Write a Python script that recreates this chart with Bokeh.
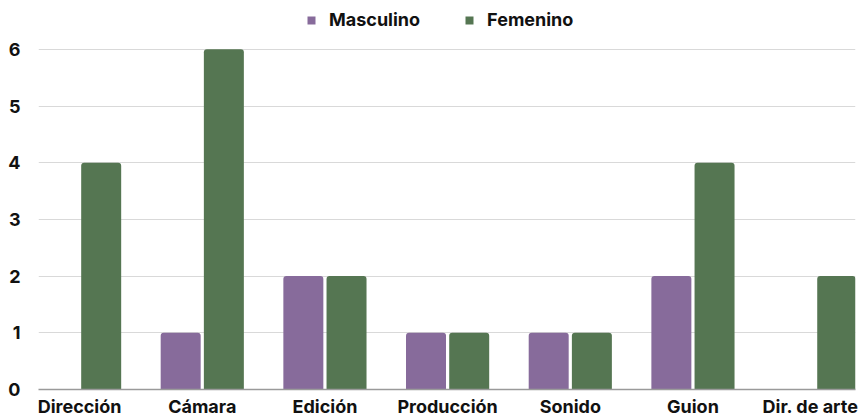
from bokeh.plotting import figure
from bokeh.models import Range1d, FixedTicker, Legend, LegendItem, ColumnDataSource
from bokeh.embed import file_html
from bokeh.resources import INLINE

categories = ["Dirección", "Cámara", "Edición", "Producción", "Sonido", "Guion", "Dir. de arte"]
masculino = [0, 1, 2, 1, 1, 2, 0]
femenino = [4, 6, 2, 1, 1, 4, 2]
y_ticks = [0, 1, 2, 3, 4, 5, 6]

PURPLE = "#876b9b"
GREEN = "#557652"
FONT = "Inter"

idx = list(range(len(categories)))
src = ColumnDataSource(dict(
    xm=[i - 0.176 for i in idx], xf=[i + 0.176 for i in idx],
    m=masculino, f=femenino))

p = figure(width=858, height=419, output_backend="svg", toolbar_location=None,
           x_range=Range1d(-0.335, 6.325), y_range=Range1d(0, 6.862),
           min_border_left=38, min_border_right=3, min_border_top=0, min_border_bottom=29)
p.outline_line_color = None
p.background_fill_color = "white"

rm = p.vbar(x="xm", top="m", width=0.326, source=src, fill_color=PURPLE,
            line_color=None, border_radius=(3, 3, 0, 0))
rf = p.vbar(x="xf", top="f", width=0.326, source=src, fill_color=GREEN,
            line_color=None, border_radius=(3, 3, 0, 0))

p.xgrid.grid_line_color = None
p.ygrid.grid_line_color = "#d9d9d9"
p.ygrid.ticker = FixedTicker(ticks=y_ticks)

for ax in (p.xaxis, p.yaxis):
    ax.major_tick_line_color = None
    ax.minor_tick_line_color = None
    ax.major_tick_out = 0
    ax.major_tick_in = 0
    ax.minor_tick_out = 0
    ax.minor_tick_in = 0
    ax.axis_label = None
    ax.axis_label_standoff = 0
    ax.major_label_text_font = FONT
    ax.major_label_text_font_style = "bold"
    ax.major_label_text_font_size = "18px"
    ax.major_label_text_color = "#111111"

p.yaxis.ticker = FixedTicker(ticks=y_ticks)
p.yaxis.axis_line_color = None
p.yaxis.major_label_standoff = 18

p.xaxis.ticker = FixedTicker(ticks=idx)
p.xaxis.major_label_overrides = {i: c for i, c in zip(idx, categories)}
p.xaxis.axis_line_color = "#9a9a9a"
p.xaxis.axis_line_width = 1.5
p.xaxis.major_label_standoff = 6

legend = Legend(items=[LegendItem(label="Masculino", renderers=[rm]),
                       LegendItem(label="Femenino", renderers=[rf])],
                orientation="horizontal", location=(268, 359),
                glyph_width=10, glyph_height=10, label_standoff=13, spacing=44,
                padding=0, margin=0, border_line_color=None, background_fill_alpha=0,
                label_text_font=FONT, label_text_font_style="bold",
                label_text_font_size="18px", label_text_color="#111111")
p.add_layout(legend, "center")

open("out.html", "w").write(file_html(p, INLINE))
